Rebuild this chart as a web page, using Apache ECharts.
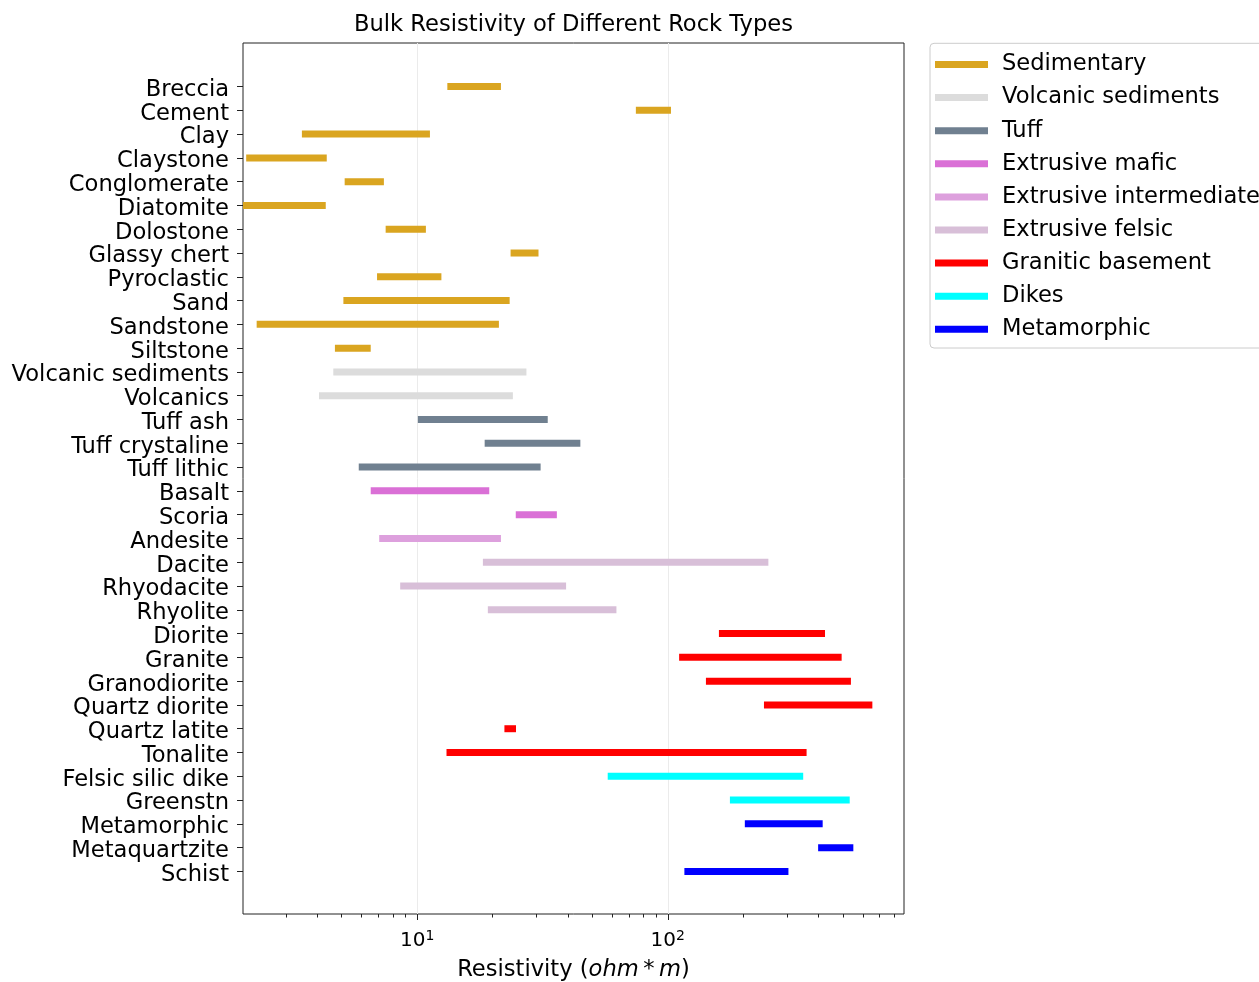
<!DOCTYPE html>
<html><head><meta charset="utf-8">
<script src="https://cdn.jsdelivr.net/npm/echarts@6/dist/echarts.min.js"></script>
<style>html,body{margin:0;padding:0;background:#fff}#c{width:1259px;height:982px}</style>
</head><body><div id="c"></div>
<script>
// ---- data ----
const categories = ['Breccia','Cement','Clay','Claystone','Conglomerate','Diatomite','Dolostone','Glassy chert','Pyroclastic','Sand','Sandstone','Siltstone','Volcanic sediments','Volcanics','Tuff ash','Tuff crystaline','Tuff lithic','Basalt','Scoria','Andesite','Dacite','Rhyodacite','Rhyolite','Diorite','Granite','Granodiorite','Quartz diorite','Quartz latite','Tonalite','Felsic silic dike','Greenstn','Metamorphic','Metaquartzite','Schist'];
const lows  = [13.2, 74.6, 3.47, 2.08, 5.14, 2.0, 7.49, 23.6, 6.92, 5.08, 2.29, 4.70, 4.63, 4.06, 10.07, 18.6, 5.85, 6.53, 24.75, 7.06, 18.3, 8.56, 19.15, 160, 111, 142, 242, 22.3, 13.1, 57.6, 177, 203, 398, 116.5];
const highs = [21.6, 103, 11.25, 4.36, 7.37, 4.32, 10.84, 30.5, 12.5, 23.4, 21.2, 6.53, 27.3, 24.1, 33.2, 44.8, 31.1, 19.4, 36.1, 21.6, 252, 39.3, 62.4, 424, 494, 538, 655, 24.8, 358, 347, 532, 415, 550, 303];
const groupOf = [0,0,0,0,0,0,0,0,0,0,0,0, 1,1, 2,2,2, 3,3, 4, 5,5,5, 6,6,6,6,6,6, 7,7, 8,8,8];
const groupNames = ['Sedimentary','Volcanic sediments','Tuff','Extrusive mafic','Extrusive intermediate','Extrusive felsic','Granitic basement','Dikes','Metamorphic'];
const groupColors = ['#DAA520','#DCDCDC','#708090','#DA70D6','#DDA0DD','#D8BFD8','#FF0000','#00FFFF','#0000FF'];
const xMajorTicks = [10, 100];
const xMajorExponents = {10: '1', 100: '2'};
const xMinorTicks = [3,4,5,6,7,8,9,20,30,40,50,60,70,80,90,200,300,400,500,600,700,800];
const xMin = 2.02, xMax = 876;
const titleText = 'Bulk Resistivity of Different Rock Types';

// ---- chart ----
const FONT = 'DejaVu Sans';
const FS = 22.6;
const catIdx = categories.map((_, i) => i);
const chart = echarts.init(document.getElementById('c'), null, {renderer: 'canvas'});

function renderItem(params, api) {
  const y = api.value(0);
  const p0 = api.coord([api.value(1), y]);
  const p1 = api.coord([api.value(2), y]);
  const h = 7;
  const cs = params.coordSys;
  const rect = echarts.graphic.clipRectByRect(
    {x: p0[0], y: p0[1] - h / 2, width: p1[0] - p0[0], height: h},
    {x: cs.x, y: cs.y, width: cs.width, height: cs.height});
  return rect && {type: 'rect', shape: rect, style: {fill: api.visual('color')}};
}

const series = groupNames.map((name, g) => ({
  name: name,
  type: 'custom',
  renderItem: renderItem,
  xAxisIndex: 0, yAxisIndex: 0,
  itemStyle: {color: groupColors[g]},
  encode: {x: [1, 2], y: 0},
  data: catIdx.filter(i => groupOf[i] === g).map(i => [i, lows[i], highs[i]])
}));

chart.setOption({
  animation: false,
  backgroundColor: '#fff',
  title: {
    text: titleText, left: 573.5, top: 12, textAlign: 'center', padding: 0,
    textStyle: {fontFamily: FONT, fontSize: FS, fontWeight: 'normal', color: '#000', lineHeight: 26}
  },
  legend: {
    orient: 'vertical', left: 930, top: 43.3, icon: 'rect',
    itemWidth: 53, itemHeight: 7, itemGap: 10.1,
    padding: [9.7, 6, 7.2, 5],
    borderColor: '#cccccc', borderWidth: 1, borderRadius: 4,
    textStyle: {fontFamily: FONT, fontSize: FS, color: '#000', lineHeight: 22, padding: [0, 0, 0, 9]},
    data: groupNames
  },
  grid: {
    left: 243, right: 355, top: 43, bottom: 68,
    show: true, borderColor: '#222', borderWidth: 1, backgroundColor: 'transparent',
    outerBoundsMode: 'none'
  },
  xAxis: [{
    type: 'log', min: xMin, max: xMax, position: 'bottom',
    axisLine: {show: false, onZero: false},
    axisTick: {show: true, customValues: xMajorTicks, length: 6, lineStyle: {color: '#222', width: 1}},
    axisLabel: {
      customValues: xMajorTicks, margin: 15,
      formatter: v => '{b|10}{s|' + xMajorExponents[Math.round(v)] + '}',
      rich: {
        b: {fontFamily: FONT, fontSize: 20, color: '#000', lineHeight: 22, verticalAlign: 'bottom'},
        s: {fontFamily: FONT, fontSize: 14, color: '#000', lineHeight: 14, verticalAlign: 'top'}
      }
    },
    splitLine: {show: true, lineStyle: {color: '#ebebeb', width: 1}},
    minorTick: {show: false}, minorSplitLine: {show: false},
    name: '{n|Resistivity (}{i|ohm}{n|\u2009*\u2009}{i|m}{n|)}',
    nameLocation: 'middle', nameGap: 43,
    nameTextStyle: {
      rich: {
        n: {fontFamily: FONT, fontSize: FS, color: '#000', lineHeight: 26},
        i: {fontFamily: FONT, fontSize: FS, color: '#000', lineHeight: 26, fontStyle: 'italic'}
      }
    }
  }, {
    type: 'log', min: xMin, max: xMax, position: 'bottom', gridIndex: 0,
    axisLine: {show: false, onZero: false},
    axisTick: {show: true, customValues: xMinorTicks, length: 3.5, lineStyle: {color: '#222', width: 1}},
    axisLabel: {show: false},
    splitLine: {show: false}
  }],
  yAxis: {
    type: 'value', inverse: true, min: -1.83, max: 34.79,
    axisLine: {show: false, onZero: false},
    axisTick: {show: true, customValues: catIdx, length: 6, lineStyle: {color: '#222', width: 1}},
    axisLabel: {
      customValues: catIdx, margin: 14,
      formatter: v => categories[Math.round(v)],
      fontFamily: FONT, fontSize: FS, color: '#000',
      verticalAlign: 'top', lineHeight: 7
    },
    splitLine: {show: false}
  },
  series: series
});
</script>
</body></html>
